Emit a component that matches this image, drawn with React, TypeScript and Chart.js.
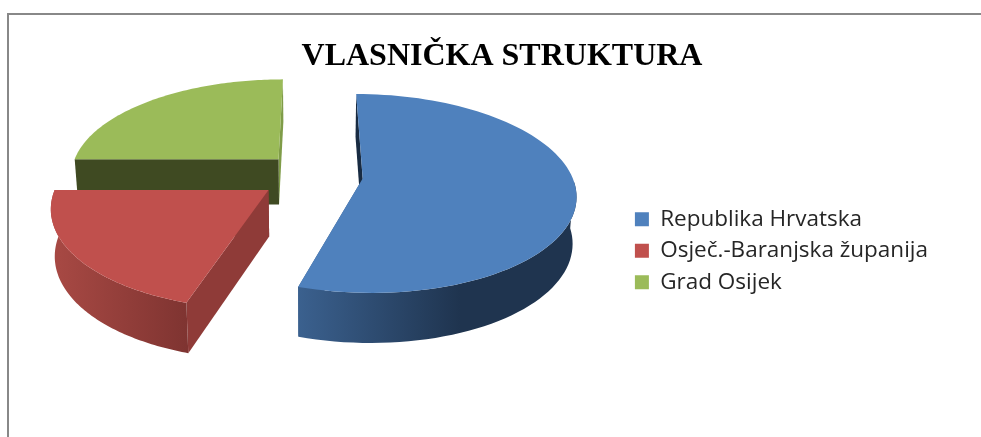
import React, { useEffect, useRef } from "react";
import { Chart, registerables } from "chart.js";

Chart.register(...registerables);

const titleText = "VLASNIČKA STRUKTURA";
const categories = ["Republika Hrvatska", "Osječ.-Baranjska županija", "Grad Osijek"];
const shares = [54.8, 20.2, 25];
const explodeBy = [50, 54, 50];
const topColors = ["#4f81bd", "#c0504d", "#9bbb59"];
const startWallColors = ["#182b42", "#8f3b38", "#3f4a22"];
const endWallColors = ["#3a5f8b", "#8f3b38", "#7f9c48"];
const rimStops: [number, string][][] = [
  [[297, "#3b618f"], [460, "#1f344f"]],
  [[60, "#a64843"], [187, "#7f3431"]],
  [[70, "#5f7537"], [280, "#5f7537"]],
];

const PIE_X = 313;
const PIE_Y = 175;
const PIE_RADIUS = 209;
const SQUASH = 0.46;
const PERSPECTIVE = 0.15;
const DEPTH = 46;
const CONVERGE = 0.985;

const pie3d = {
  id: "pie3d",
  beforeDatasetDraw(chart: any) {
    const ctx = chart.ctx;
    const arcs = chart.getDatasetMeta(0).data;
    for (let i = arcs.length - 1; i >= 0; i--) {
      const el = arcs[i];
      const start = el.startAngle;
      const end = el.endAngle;
      const R = el.outerRadius;
      const mid = (start + end) / 2;
      const off = el.options.offset;
      const top = (a: number, r: number) => {
        const u = Math.cos(a) * r + Math.cos(mid) * off;
        const v = Math.sin(a) * r + Math.sin(mid) * off;
        const w = 1 / (1 - (PERSPECTIVE * v) / R);
        return { x: PIE_X + u * w, y: PIE_Y + SQUASH * v * w, w };
      };
      const low = (p: { x: number; y: number; w: number }) => ({
        x: PIE_X + (p.x - PIE_X) * CONVERGE,
        y: p.y + DEPTH * Math.sqrt(p.w),
      });
      const steps = 90;
      const edge: any[] = [];
      const front: any[] = [];
      for (let s = 0; s <= steps; s++) {
        const a = start + ((end - start) * s) / steps;
        const p = top(a, R);
        edge.push(p);
        if (Math.sin(a) >= 0) front.push(p);
      }
      const apex = top(0, 0);
      const poly = (pts: { x: number; y: number }[], fill: any) => {
        ctx.beginPath();
        pts.forEach((p, n) => (n ? ctx.lineTo(p.x, p.y) : ctx.moveTo(p.x, p.y)));
        ctx.closePath();
        ctx.fillStyle = fill;
        ctx.fill();
      };
      const first = edge[0];
      const last = edge[steps];
      poly([last, apex, low(apex), low(last)], endWallColors[i]);
      poly([first, apex, low(apex), low(first)], startWallColors[i]);
      if (front.length > 1) {
        const stops = rimStops[i];
        const grad = ctx.createLinearGradient(stops[0][0], 0, stops[1][0], 0);
        grad.addColorStop(0, stops[0][1]);
        grad.addColorStop(1, stops[1][1]);
        poly([...front, ...front.map(low).reverse()], grad);
      }
      poly([apex, ...edge], topColors[i]);
    }
    return false;
  },
};

export default function App() {
  const ref = useRef<HTMLCanvasElement>(null);
  useEffect(() => {
    const chart = new Chart(ref.current!, {
      type: "pie",
      data: {
        labels: categories,
        datasets: [
          {
            data: shares,
            backgroundColor: topColors,
            borderWidth: 0,
            offset: explodeBy,
            radius: PIE_RADIUS,
          } as any,
        ],
      },
      plugins: [pie3d],
      options: {
        animation: false,
        responsive: false,
        layout: { padding: { left: 66, right: 43, bottom: 12 } },
        plugins: {
          tooltip: { enabled: false },
          title: {
            display: true,
            text: titleText,
            color: "#000000",
            font: { family: "'Liberation Serif'", size: 32, weight: "bold" },
            padding: { top: 38, bottom: 0 },
          },
          legend: {
            position: "right",
            fullSize: false,
            labels: {
              boxWidth: 14,
              boxHeight: 14,
              padding: 9,
              color: "#262626",
              font: { family: "'Open Sans'", size: 22.5 },
            },
          },
        },
      },
    } as any);
    return () => chart.destroy();
  }, []);
  return (
    <div>
      <div style={{ position: "absolute", left: 7, top: 13, width: 974, height: 2, background: "#888888" }} />
      <div style={{ position: "absolute", left: 7, top: 13, width: 2, height: 424, background: "#888888" }} />
      <canvas ref={ref} width={981} height={437} style={{ position: "absolute", left: 0, top: 0, display: "block" }} />
    </div>
  );
}
